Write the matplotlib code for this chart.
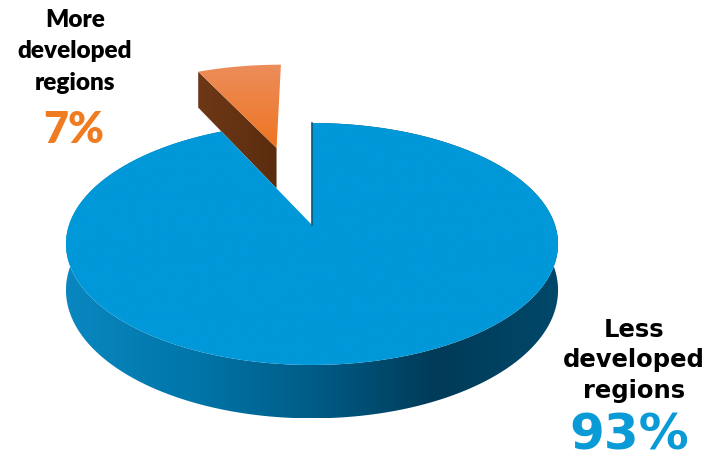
import numpy as np
import matplotlib
matplotlib.use("Agg")
import matplotlib.pyplot as plt
from matplotlib.patches import Polygon
from matplotlib.colors import LinearSegmentedColormap

# Share of the population by region group
labels = ["More\ndeveloped\nregions", "Less\ndeveloped\nregions"]
shares = [7, 93]
pct_labels = ["7%", "93%"]

# slice styling
explode = [0.745, 0.0]
top_colors = [("#ec8d5c", "#ef7520"), ("#0098d8", "#0098d8")]
side_colors = [["#6e3817", "#5a2d0e"],
               ["#0a87c0", "#0076aa", "#005c88", "#003b58", "#00486a"]]
text_colors = ["#f07c22", "#0a9bd7"]

W, H = 710, 458
CX, CY = 312, 225      # pie centre on screen (px)
RX, RY = 243, 118      # radii of the top face
PERSP = 0.157          # foreshortening of the far side
DEPTH = 45             # thickness of the disc


def project(X, Y, drop=0.0):
    s = 1.0 + PERSP * Y
    return CX + RX * X / s, CY - RY * Y / s + drop / s


def gradient_fill(ax, poly, colors, vertical=False):
    cmap = LinearSegmentedColormap.from_list("g", colors)
    xy = poly.get_xy()
    x0, x1 = xy[:, 0].min(), xy[:, 0].max()
    y0, y1 = xy[:, 1].min(), xy[:, 1].max()
    ramp = np.linspace(0, 1, 256)
    img = ramp[:, None] if vertical else ramp[None, :]
    im = ax.imshow(img, cmap=cmap, extent=(x0, x1, y1, y0), origin="upper",
                   aspect="auto", interpolation="bilinear", zorder=poly.get_zorder())
    ax.add_patch(poly)
    poly.set_visible(False)
    im.set_clip_path(poly)


fig = plt.figure(figsize=(W / 100, H / 100), dpi=100)
ax = fig.add_axes([0, 0, 1, 1])
ax.set_xlim(0, W)
ax.set_ylim(H, 0)
ax.axis("off")

# slice angles, counter-clockwise from 12 o'clock
bounds = 90 + 360 * np.concatenate([[0], np.cumsum(shares)]) / sum(shares)

for i, share in enumerate(shares):
    t0, t1 = bounds[i], bounds[i + 1]
    mid = np.radians((t0 + t1) / 2)
    dx, dy = explode[i] * np.cos(mid), explode[i] * np.sin(mid)
    th = np.radians(np.linspace(t0, t1, 200))
    rim_X, rim_Y = dx + np.cos(th), dy + np.sin(th)
    z = 2 * i

    if i == 0:
        # cut face along the leading edge
        ex, ey = dx + np.cos(th[-1]), dy + np.sin(th[-1])
        pts = [project(dx, dy), project(ex, ey), project(ex, ey, DEPTH), project(dx, dy, DEPTH)]
        gradient_fill(ax, Polygon(pts, closed=True, zorder=z), side_colors[i])
    else:
        # outer wall
        tx, ty = project(rim_X, rim_Y)
        bx, by = project(rim_X, rim_Y, DEPTH)
        pts = np.column_stack([np.r_[tx, bx[::-1]], np.r_[ty, by[::-1]]])
        gradient_fill(ax, Polygon(pts, closed=True, zorder=z), side_colors[i])
        ax.plot([CX, CX], [project(0, 1)[1], CY], color="#0b5675", lw=1.2, zorder=z + 1.5)

    # top face
    tx, ty = project(rim_X, rim_Y)
    ax0, ay0 = project(dx, dy)
    pts = np.column_stack([np.r_[ax0, tx], np.r_[ay0, ty]])
    gradient_fill(ax, Polygon(pts, closed=True, zorder=z + 1), top_colors[i], vertical=True)

# labels
for k, line in enumerate(labels[0].split("\n")):
    ax.text(75, 27 + 31.5 * k, line, ha="center", va="baseline", fontsize=17.5,
            fontweight="heavy", family="Lato", color="black")
ax.text(74, 143, pct_labels[0], ha="center", va="baseline", fontsize=31,
        fontweight="heavy", family="Lato", color=text_colors[0])

for k, line in enumerate(labels[1].split("\n")):
    ax.text(634, 337 + 30.5 * k, line, ha="center", va="baseline", fontsize=17.5,
            fontweight="bold", family="DejaVu Sans", color="black")
ax.text(629, 449, pct_labels[1], ha="center", va="baseline", fontsize=36,
        fontweight="bold", family="DejaVu Sans", color=text_colors[1])

fig.savefig("out.png", dpi=100)
